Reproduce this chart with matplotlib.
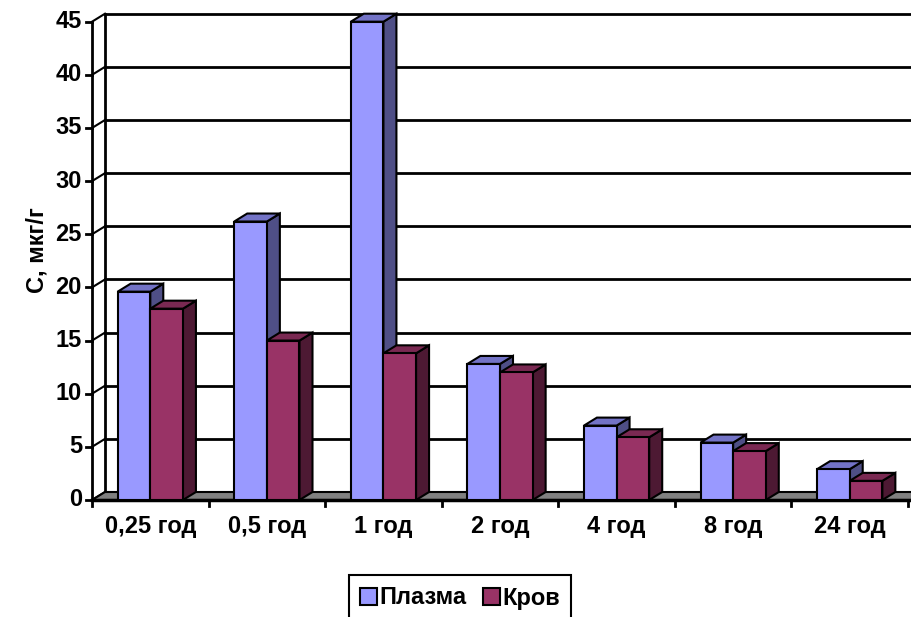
import matplotlib.pyplot as plt
from matplotlib.patches import Polygon, Patch

plt.rcParams['font.family'] = ['Liberation Sans', 'DejaVu Sans']
plt.rcParams['font.weight'] = 'bold'

# ------------------------------
# DATA
# ------------------------------
times = ["0,25 год", "0,5 год", "1 год", "2 год", "4 год", "8 год", "24 год"]
plasma = [19.6, 26.2, 45.0, 12.8, 7.0, 5.4, 2.9]
blood = [18.0, 15.0, 13.8, 12.0, 5.9, 4.6, 1.8]
y_ticks = [0, 5, 10, 15, 20, 25, 30, 35, 40, 45]

# colours: front, top, side
plasma_cols = ("#9999FF", "#7373C6", "#4F4F86")
blood_cols = ("#993366", "#7A2952", "#4D1933")

FS = 17

fig = plt.figure(figsize=(9.11, 6.17), dpi=100)
W, H = 911, 617
left, right, bottom, top = 92, 908, 500, 21.7
ax = fig.add_axes([left / W, 1 - bottom / H, (right - left) / W, (bottom - top) / H])
ax.set_xlim(0, len(times))
ax.set_ylim(0, 45)
ax.axis("off")

# depth offset of the pseudo-3D box (data units)
px_x = (right - left) / len(times)
px_y = (bottom - top) / 45
dx = 13 / px_x
dy = 8 / px_y

n = len(times)

# ------------------------------
# WALLS, GRIDLINES, FLOOR
# ------------------------------
for v in y_ticks:
    ax.plot([dx, n + 1], [v + dy, v + dy], color="black", lw=2, zorder=1, clip_on=False)
    ax.plot([0, dx], [v, v + dy], color="black", lw=1.5, zorder=1, clip_on=False)
    ax.plot([-6 / px_x, 0], [v, v], color="black", lw=2, zorder=1, clip_on=False)
    ax.text(-10 / px_x, v, str(v), ha="right", va="center", fontsize=FS, fontweight="bold")

ax.plot([dx, dx], [dy, 45 + dy], color="black", lw=2, zorder=1, clip_on=False)
ax.plot([0, 0], [0, 45], color="black", lw=2, zorder=1, clip_on=False)

floor = Polygon([(0, 0), (n + 1, 0), (n + 1 + dx, dy), (dx, dy)], closed=True,
                facecolor="#808080", edgecolor="black", lw=1.5, zorder=2, clip_on=False)
ax.add_patch(floor)
ax.plot([0, n + 1], [0, 0], color="black", lw=2.5, zorder=2, clip_on=False)

for i in range(n + 1):
    ax.plot([i, i], [0, -6 / px_y], color="black", lw=2, zorder=2, clip_on=False)

for i, label in enumerate(times):
    ax.text(i + 0.5, -27 / px_y, label, ha="center", va="center", fontsize=FS, fontweight="bold")

ax.text(-55 / px_x, 23.5, "С, мкг/г", rotation=90, ha="center", va="center",
        fontsize=FS, fontweight="bold")


# ------------------------------
# BARS
# ------------------------------
def draw_bar(x0, w, h, cols, z):
    x1 = x0 + w
    front = Polygon([(x0, 0), (x1, 0), (x1, h), (x0, h)], closed=True,
                    facecolor=cols[0], edgecolor="black", lw=1.5, zorder=z)
    top_face = Polygon([(x0, h), (x1, h), (x1 + dx, h + dy), (x0 + dx, h + dy)], closed=True,
                       facecolor=cols[1], edgecolor="black", lw=1.5, zorder=z)
    side = Polygon([(x1, 0), (x1 + dx, dy), (x1 + dx, h + dy), (x1, h)], closed=True,
                   facecolor=cols[2], edgecolor="black", lw=1.5, zorder=z)
    for p in (side, top_face, front):
        p.set_clip_on(False)
        ax.add_patch(p)


bar_w = 0.28
for i in range(n):
    draw_bar(i + 0.5 - bar_w, bar_w, plasma[i], plasma_cols, 3 + 2 * i)
    draw_bar(i + 0.5, bar_w, blood[i], blood_cols, 4 + 2 * i)

# ------------------------------
# LEGEND
# ------------------------------
handles = [Patch(facecolor=plasma_cols[0], edgecolor="black", lw=1.5),
           Patch(facecolor=blood_cols[0], edgecolor="black", lw=1.5)]
leg = fig.legend(handles, ["Плазма", "Кров"], loc="center",
                 bbox_to_anchor=(460 / W, 1 - 598 / H), ncol=2, fontsize=FS,
                 handlelength=0.7, handleheight=0.7, handletextpad=0.1,
                 columnspacing=0.7, borderpad=0.5, fancybox=False, framealpha=1)
leg.get_frame().set_edgecolor("black")
leg.get_frame().set_linewidth(1.5)
for t in leg.get_texts():
    t.set_fontweight("bold")

fig.savefig("out.png", dpi=100)
